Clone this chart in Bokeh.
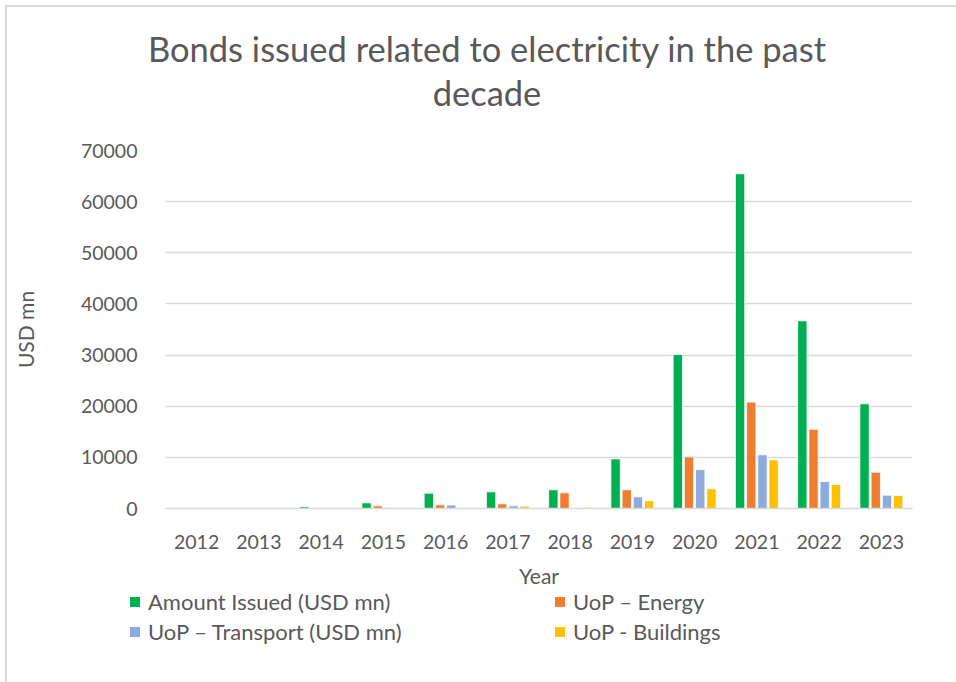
from bokeh.plotting import figure
from bokeh.layouts import column
from bokeh.models import (FactorRange, Range1d, ColumnDataSource, Div,
                          FixedTicker, NumeralTickFormatter)
from bokeh.transform import dodge
from bokeh.embed import file_html
from bokeh.resources import INLINE

years = ["2012", "2013", "2014", "2015", "2016", "2017", "2018", "2019", "2020", "2021", "2022", "2023"]
amount_issued = [0, 0, 330, 1100, 3000, 3260, 3650, 9700, 30100, 65450, 36700, 20470]
uop_energy = [0, 0, 0, 520, 720, 910, 3060, 3650, 10100, 20800, 15500, 7100]
uop_transport = [0, 0, 0, 130, 680, 530, 0, 2280, 7600, 10500, 5280, 2600]
uop_buildings = [0, 0, 0, 0, 0, 460, 250, 1500, 3850, 9500, 4700, 2550]
y_ticks = [0, 10000, 20000, 30000, 40000, 50000, 60000, 70000]

title_lines = ["Bonds issued related to electricity in the past", "decade"]
series_names = ["Amount Issued (USD mn)", "UoP \u2013 Energy", "UoP \u2013 Transport (USD mn)", "UoP - Buildings"]
series_cols = ["amount", "energy", "transport", "buildings"]
colors = ["#00b050", "#ed7d31", "#8faadc", "#ffc000"]

FONT = "Lato"
TXT = "#595959"
SH = 7                      # outer margin (5) + chart border (2)
W = 956 - SH
TH = 120                    # title strip height
LH = 92                     # legend strip height
MH = 682 - SH - TH - LH     # main chart height
TOP = SH + TH               # canvas y of the main figure's top

# ---- title strip ----
title_parts = []
for txt, top in zip(title_lines, [21, 65]):
    title_parts.append(f'<div style="position:absolute;left:{480 - 400}px;top:{top}px;width:800px;'
                       f'text-align:center;line-height:42px;white-space:nowrap;">{txt}</div>')
title_html = (f'<div style="position:relative;width:{W}px;height:{TH}px;font-family:{FONT};'
              f'font-size:34.5px;color:{TXT};">' + "".join(title_parts) + "</div>")
title_div = Div(text=title_html, width=W, height=TH, margin=0)

# ---- main chart ----
src = ColumnDataSource(dict(year=years, amount=amount_issued, energy=uop_energy,
                            transport=uop_transport, buildings=uop_buildings))
p = figure(width=W, height=MH, x_range=FactorRange(*years), y_range=Range1d(0, 70000),
           output_backend="svg", toolbar_location=None, title=None,
           min_border_left=165 - SH, min_border_right=44, min_border_top=150 - TOP,
           min_border_bottom=MH - (508 - TOP))
p.outline_line_color = None

offsets = [-0.27, -0.09, 0.09, 0.27]
for col, c, off in zip(series_cols, colors, offsets):
    p.vbar(x=dodge("year", off, range=p.x_range), top=col, width=0.15, source=src,
           fill_color=c, line_color="white", line_width=0.8)

p.yaxis.ticker = FixedTicker(ticks=y_ticks)
p.yaxis.formatter = NumeralTickFormatter(format="0")
for ax in (p.xaxis[0], p.yaxis[0]):
    ax.major_label_text_font = FONT
    ax.major_label_text_font_size = "19.5px"
    ax.major_label_text_color = TXT
    ax.major_tick_line_color = None
    ax.minor_tick_line_color = None
    ax.axis_label_text_font = FONT
    ax.axis_label_text_font_size = "21px"
    ax.axis_label_text_font_style = "normal"
    ax.axis_label_text_color = TXT
p.yaxis.axis_line_color = None
p.xaxis.axis_line_color = "#d9d9d9"
p.xaxis.axis_line_width = 1.5
p.yaxis.major_label_standoff = 22
p.xaxis.major_label_standoff = 20
p.xaxis.axis_label = "Year"
p.yaxis.axis_label = "USD mn"
p.xaxis.axis_label_standoff = 11
p.yaxis.axis_label_standoff = 40
p.xgrid.grid_line_color = None
p.ygrid.grid_line_color = "#d9d9d9"
p.ygrid.grid_line_width = 1.5

# ---- legend strip (two columns, two rows) ----
col_x = [130, 555, 130, 555]
row_y = [12, 12, 42, 42]
parts = []
for n, c, lx, ly in zip(series_names, colors, col_x, row_y):
    parts.append(f'<div style="position:absolute;left:{lx - SH}px;top:{ly - 5}px;width:10px;height:10px;background:{c};"></div>')
    parts.append(f'<div style="position:absolute;left:{lx - SH + 18}px;top:{ly - 14}px;height:28px;line-height:28px;white-space:nowrap;">{n}</div>')
legend_html = (f'<div style="position:relative;width:{W}px;height:{LH}px;font-family:{FONT};'
               f'font-size:22px;color:{TXT};">' + "".join(parts) + "</div>")
legend_div = Div(text=legend_html, width=W, height=LH, margin=0)

layout = column(title_div, p, legend_div, spacing=0, margin=(5, 0, 0, 5),
                styles={"border-left": "2px solid #d9d9d9", "border-top": "2px solid #d9d9d9"})
open("out.html", "w").write(file_html(layout, INLINE))
